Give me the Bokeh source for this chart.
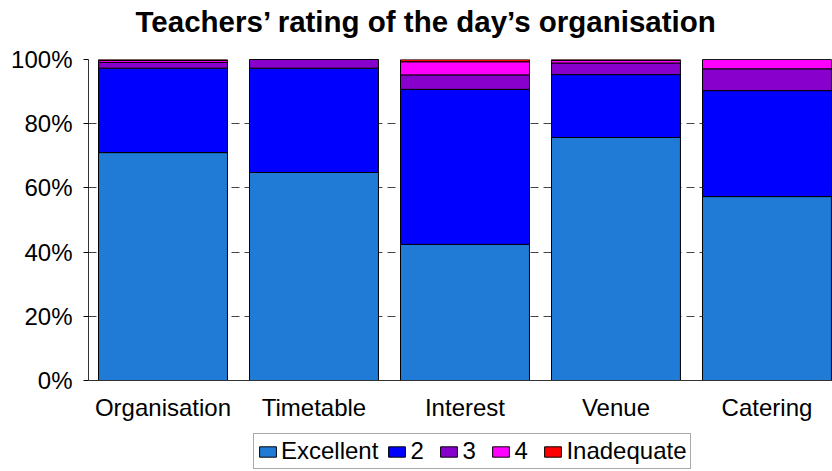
from bokeh.plotting import figure
from bokeh.models import ColumnDataSource, Range1d, FixedTicker, Legend, Label
from bokeh.layouts import column
from bokeh.embed import file_html
from bokeh.resources import INLINE

categories = ["Organisation", "Timetable", "Interest", "Venue", "Catering"]
series = ["Excellent", "2", "3", "4", "Inadequate"]
excellent = [71.0, 64.8, 42.4, 75.7, 57.3]
two = [26.3, 32.5, 48.3, 19.6, 33.0]
three = [1.8, 2.7, 4.5, 3.6, 6.8]
four = [0.6, 0.0, 4.1, 0.8, 2.9]
inadequate = [0.3, 0.0, 0.7, 0.3, 0.0]
y_ticks = [0, 20, 40, 60, 80, 100]
colors = ["#1f7bd6", "#0000ff", "#8800cc", "#ff00ff", "#ff0000"]
title_text = "Teachers\u2019 rating of the day\u2019s organisation"

FONT = "Liberation Sans"
W = 832
LEFT = 88

# ---- title strip (frame spans x = LEFT..W, so data x == page pixel) ----
tf = figure(width=W, height=40, output_backend="svg", toolbar_location=None,
            x_range=Range1d(LEFT, W), y_range=Range1d(0, 40),
            x_axis_location=None, y_axis_location=None,
            min_border_left=LEFT, min_border_right=0,
            min_border_top=0, min_border_bottom=0)
tf.outline_line_color = None
tf.grid.visible = False
tf.add_layout(Label(x=426, y=19.5, text=title_text, text_align="center",
                    text_baseline="middle", text_font=FONT,
                    text_font_size="29.5px", text_font_style="bold",
                    text_color="black"))

# ---- main chart ----
src = ColumnDataSource(dict(
    x=list(range(len(categories))),
    Excellent=excellent, **{"2": two, "3": three, "4": four}, Inadequate=inadequate,
))

p = figure(width=W, height=385, output_backend="svg", toolbar_location=None,
           x_range=Range1d(-0.4934, 4.434), y_range=Range1d(0, 100),
           min_border_left=LEFT, min_border_right=0, min_border_top=19, min_border_bottom=45)

renderers = p.vbar_stack(series, x="x", width=0.854, source=src, fill_color=colors,
                         line_color="black", line_width=1)

p.outline_line_color = None
p.background_fill_color = "white"

xa = p.xaxis[0]
xa.ticker = FixedTicker(ticks=list(range(len(categories))))
xa.major_label_overrides = {i: c for i, c in enumerate(categories)}
xa.major_tick_out = 0
xa.major_tick_in = 0
xa.minor_tick_out = 0
xa.minor_tick_in = 0
xa.major_label_standoff = 13
xa.major_label_text_font = FONT
xa.major_label_text_font_size = "24px"
xa.major_label_text_color = "black"
xa.axis_line_color = "#333333"

ya = p.yaxis[0]
ya.ticker = FixedTicker(ticks=y_ticks)
ya.major_label_overrides = {t: f"{t}%" for t in y_ticks}
ya.major_tick_out = 5
ya.major_tick_in = 0
ya.minor_tick_out = 0
ya.minor_tick_in = 0
ya.major_label_standoff = 11
ya.major_label_text_font = FONT
ya.major_label_text_font_size = "24px"
ya.major_label_text_color = "black"
ya.axis_line_color = "#333333"

p.xgrid.grid_line_color = None
p.ygrid.grid_line_color = "#444444"
p.ygrid.grid_line_dash = "8 5"
p.ygrid.ticker = FixedTicker(ticks=[20, 40, 60, 80, 100])

# ---- legend strip ----
lf = figure(width=W, height=46, output_backend="svg", toolbar_location=None,
            x_range=Range1d(0, 1), y_range=Range1d(0, 1),
            x_axis_location=None, y_axis_location=None,
            min_border_left=LEFT, min_border_right=0,
            min_border_top=0, min_border_bottom=0)
lf.outline_line_color = None
lf.grid.visible = False
lsrc = ColumnDataSource(dict(x=[-10], top=[-10]))
lrs = [lf.vbar(x="x", top="top", width=0.1, source=lsrc, fill_color=c, line_color="black")
       for c in colors]
legend = Legend(items=[(s, [r]) for s, r in zip(series, lrs)],
                orientation="horizontal", location=(253 - LEFT, 2))
legend.label_text_font = FONT
legend.label_text_font_size = "24px"
legend.label_text_color = "black"
legend.glyph_width = 21
legend.glyph_height = 13
legend.label_standoff = 3
legend.spacing = 8
legend.padding = 3
legend.margin = 0
legend.border_line_color = "#555555"
legend.border_line_width = 1
legend.label_height = 22
lf.add_layout(legend, "center")

layout = column(tf, p, lf, spacing=0)
open("out.html", "w").write(file_html(layout, INLINE))
